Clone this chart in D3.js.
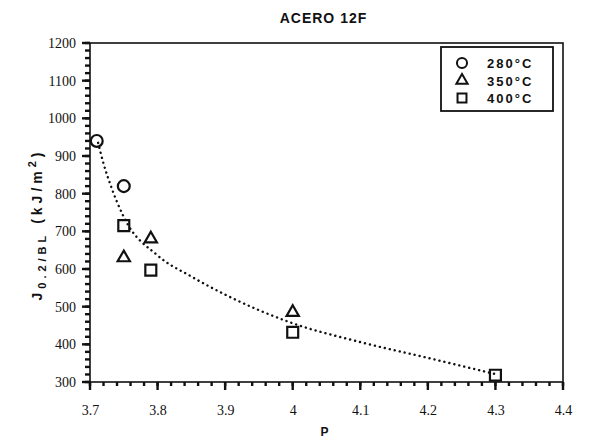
<!DOCTYPE html>
<html>
<head>
<meta charset="utf-8">
<script src="https://cdn.jsdelivr.net/npm/d3@7"></script>
<style>
  body { margin: 0; background: #fff; }
  svg { display: block; }
</style>
</head>
<body>
<div id="chart"></div>
<script>
// data
const series = ['280°C', '350°C', '400°C'];
const p280 = [[3.71, 940], [3.75, 820]];
const p350 = [[3.75, 630], [3.79, 680], [4.0, 485]];
const p400 = [[3.75, 715], [3.79, 597], [4.0, 432], [4.3, 318]];
const fitCurve = [[3.712, 935], [3.72, 880], [3.73, 825], [3.75, 738], [3.8, 636],
  [3.85, 580], [3.9, 532], [4.0, 456], [4.1, 406], [4.2, 364], [4.3, 321]];
const xTicks = [3.7, 3.8, 3.9, 4.0, 4.1, 4.2, 4.3, 4.4];
const yTicks = [300, 400, 500, 600, 700, 800, 900, 1000, 1100, 1200];

const width = 603, height = 438;
const margin = {top: 43, right: 40, bottom: 56, left: 90};
const innerwidth = width - margin.left - margin.right;
const innerheight = height - margin.top - margin.bottom;

const svg = d3.select('#chart').append('svg')
  .attr('width', width)
  .attr('height', height);

const g = svg.append('g')
  .attr('transform', `translate(${margin.left},${margin.top})`);

const xScale = d3.scaleLinear().domain([3.7, 4.4]).range([0, innerwidth]);
const yScale = d3.scaleLinear().domain([300, 1200]).range([innerheight, 0]);

const xMinor = d3.range(3.7, 4.4001, 0.02).map(d => +d.toFixed(2));
const yMinor = d3.range(300, 1201, 20);

// tick marks
const tickG = g.append('g').attr('class', 'tick-marks')
  .attr('stroke', '#111').attr('stroke-width', 2.4);
tickG.selectAll('.xm').data(xMinor).join('line').attr('class', 'xm')
  .attr('x1', d => xScale(d)).attr('x2', d => xScale(d))
  .attr('y1', innerheight).attr('y2', innerheight + 4);
tickG.selectAll('.xM').data(xTicks).join('line').attr('class', 'xM')
  .attr('x1', d => xScale(d)).attr('x2', d => xScale(d))
  .attr('y1', innerheight).attr('y2', innerheight + 8);
tickG.selectAll('.ym').data(yMinor).join('line').attr('class', 'ym')
  .attr('x1', 0).attr('x2', -5)
  .attr('y1', d => yScale(d)).attr('y2', d => yScale(d));
tickG.selectAll('.yM').data(yTicks).join('line').attr('class', 'yM')
  .attr('x1', 0).attr('x2', -8)
  .attr('y1', d => yScale(d)).attr('y2', d => yScale(d));

function styleAxis(a) {
  a.select('.domain').remove();
  a.selectAll('.tick line').remove();
  a.attr('font-family', 'Liberation Serif, Times New Roman, serif')
    .attr('font-size', 14);
  a.selectAll('.tick text').attr('fill', '#111');
}

g.append('g')
  .attr('class', 'x-axis')
  .attr('transform', `translate(0,${innerheight})`)
  .call(d3.axisBottom(xScale).tickValues(xTicks).tickSize(8).tickPadding(15)
    .tickFormat(d => d3.format('.1f')(d).replace('.0', '')))
  .call(styleAxis);
g.append('g')
  .attr('class', 'y-axis')
  .call(d3.axisLeft(yScale).tickValues(yTicks).tickSize(8).tickPadding(6)
    .tickFormat(d3.format('d')))
  .call(styleAxis);

// frame
g.append('rect')
  .attr('width', innerwidth).attr('height', innerheight)
  .attr('fill', 'none').attr('stroke', '#111').attr('stroke-width', 1.6);

// dotted fit
const line = d3.line()
  .x(d => xScale(d[0])).y(d => yScale(d[1]))
  .curve(d3.curveMonotoneX);
g.append('path')
  .datum(fitCurve)
  .attr('d', line)
  .attr('fill', 'none')
  .attr('stroke', '#111')
  .attr('stroke-width', 2.4)
  .attr('stroke-linecap', 'round')
  .attr('stroke-dasharray', '0.1,5');

// markers
const symCircle = d3.symbol().type(d3.symbolCircle).size(110);
const symTri = d3.symbol().type(d3.symbolTriangle).size(65);
const symSquare = d3.symbol().type(d3.symbolSquare).size(120);
const groups = [
  {data: p280, sym: symCircle},
  {data: p350, sym: symTri},
  {data: p400, sym: symSquare}
];
groups.forEach(s => {
  g.selectAll(null)
    .data(s.data)
    .join('path')
    .attr('transform', d => `translate(${xScale(d[0])},${yScale(d[1])})`)
    .attr('d', s.sym())
    .attr('fill', 'none')
    .attr('stroke', '#111')
    .attr('stroke-width', 2.2);
});

// legend
const lg = svg.append('g').attr('transform', 'translate(441,47)');
lg.append('rect')
  .attr('width', 112).attr('height', 64)
  .attr('fill', '#fff').attr('stroke', '#111').attr('stroke-width', 1.8);
lg.selectAll('.item')
  .data(series)
  .join('g')
  .attr('transform', (d, i) => `translate(0,${16 + i * 17.5})`)
  .each(function(d, i) {
    const it = d3.select(this);
    it.append('path')
      .attr('transform', 'translate(21,0)')
      .attr('d', groups[i].sym.size(i === 1 ? 55 : 80)())
      .attr('fill', 'none').attr('stroke', '#111').attr('stroke-width', 2);
    it.append('text')
      .attr('x', 46).attr('y', 5)
      .attr('font-family', 'Liberation Sans, Arial, sans-serif')
      .attr('font-weight', 'bold').attr('font-size', 13)
      .attr('letter-spacing', 2)
      .attr('fill', '#111')
      .text(d);
  });

// titles
svg.append('text')
  .attr('x', margin.left + innerwidth / 2 - 3).attr('y', 23)
  .attr('text-anchor', 'middle')
  .attr('font-family', 'Liberation Sans, Arial, sans-serif')
  .attr('font-weight', 'bold').attr('font-size', 14)
  .attr('letter-spacing', 1)
  .attr('fill', '#111')
  .text('ACERO  12F');

svg.append('text')
  .attr('x', margin.left + innerwidth / 2 - 2).attr('y', 436)
  .attr('text-anchor', 'middle')
  .attr('font-family', 'Liberation Sans, Arial, sans-serif')
  .attr('font-weight', 'bold').attr('font-size', 12)
  .attr('fill', '#111')
  .text('P');

const yl = svg.append('text')
  .attr('transform', `translate(42,${margin.top + innerheight / 2 + 12}) rotate(-90)`)
  .attr('text-anchor', 'middle')
  .attr('font-family', 'Liberation Sans, Arial, sans-serif')
  .attr('font-weight', 'bold').attr('font-size', 14)
  .attr('letter-spacing', 4)
  .attr('fill', '#111');
yl.append('tspan').text('J');
yl.append('tspan').attr('dy', 4).attr('font-size', 11).text('0.2/BL');
yl.append('tspan').attr('dy', -4).text(' (kJ/m');
yl.append('tspan').attr('dy', -6).attr('font-size', 11).text('2');
yl.append('tspan').attr('dy', 6).text(')');
</script>
</body>
</html>
